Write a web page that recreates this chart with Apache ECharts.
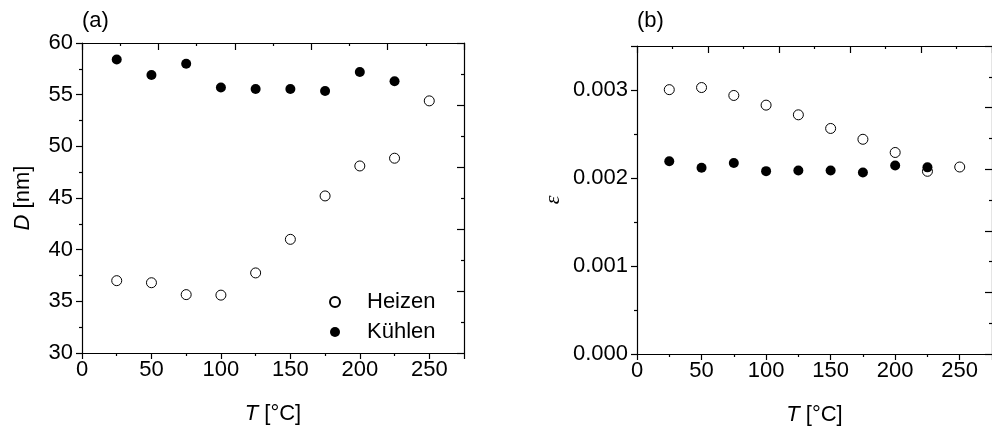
<!DOCTYPE html>
<html>
<head>
<meta charset="utf-8">
<script src="https://cdn.jsdelivr.net/npm/echarts@6/dist/echarts.min.js"></script>
<style>
  html, body { margin: 0; padding: 0; background: #fff; }
  #chart { width: 992px; height: 435px; }
</style>
</head>
<body>
<div id="chart"></div>
<script>
// Temperatures (°C) of the measurement steps
const temps = [25, 50, 75, 100, 125, 150, 175, 200, 225, 250];

// Crystallite size D [nm]
const dHeizen  = [37.0, 36.8, 35.65, 35.6, 37.75, 41.0, 45.2, 48.1, 48.85, 54.4];
const dKuehlen = [58.4, 56.9, 58.0, 55.7, 55.55, 55.55, 55.35, 57.2, 56.3];

// Microstrain ε
const epsHeizen  = [0.003004, 0.003028, 0.002938, 0.002828, 0.002718, 0.002563, 0.00244, 0.00229, 0.002076, 0.002125];
const epsKuehlen = [0.00219, 0.002117, 0.00217, 0.002078, 0.002085, 0.002085, 0.002062, 0.002142, 0.002121];

// Axis tick labels
const tTicks = [0, 50, 100, 150, 200, 250];
const dTicks = [30, 35, 40, 45, 50, 55, 60];
const epsTicks = ['0.000', '0.001', '0.002', '0.003'];

const seriesNames = ['Heizen', 'Kühlen'];

const pairs = (xs, ys) => ys.map((v, i) => [xs[i], v]);

const FONT = '"Liberation Sans", Arial, sans-serif';
const BLACK = '#000';

const lineStyle = { color: BLACK, width: 1.2 };

function bottomAxis(gridIndex) {
  return {
    type: 'value', gridIndex, position: 'bottom',
    min: 0, max: 275, interval: 50,
    name: '{i|T} [°C]', nameLocation: 'middle', nameGap: 50,
    nameTextStyle: { fontFamily: FONT, fontSize: 22, color: BLACK,
      rich: { i: { fontStyle: 'italic', fontFamily: FONT, fontSize: 22, color: BLACK } } },
    axisLine: { show: true, onZero: false, lineStyle },
    axisTick: { show: true, inside: false, length: 6, lineStyle },
    minorTick: { show: true, splitNumber: 2, length: 3, lineStyle },
    splitLine: { show: false },
    axisLabel: {
      margin: 6, fontFamily: FONT, fontSize: 22, color: BLACK,
      showMaxLabel: false,
      formatter: v => (tTicks.indexOf(v) >= 0 ? String(v) : '')
    }
  };
}

// Frame axes on top/right carry their own evenly spaced inward ticks
function frameAxis(gridIndex, position) {
  return {
    type: 'value', gridIndex, position,
    min: 0, max: 10, interval: 2,
    axisLine: { show: true, onZero: false, lineStyle },
    axisTick: { show: true, inside: true, length: 7, lineStyle },
    minorTick: { show: true, splitNumber: 2, length: 3, lineStyle },
    splitLine: { show: false },
    axisLabel: { show: false }
  };
}

const openStyle = { color: '#fff', borderColor: BLACK, borderWidth: 1, opacity: 1 };
const filledStyle = { color: BLACK, borderColor: BLACK, borderWidth: 0, opacity: 1 };

const option = {
  backgroundColor: '#fff',
  animation: false,
  textStyle: { fontFamily: FONT, color: BLACK },
  graphic: [
    { type: 'text', left: 82, top: 10, style: { text: '(a)', font: '22px ' + FONT, fill: BLACK } },
    { type: 'text', left: 637, top: 10, style: { text: '(b)', font: '22px ' + FONT, fill: BLACK } }
  ],
  grid: [
    { left: 82, top: 43, width: 382, height: 310, containLabel: false },
    { left: 637, top: 46, right: -4, height: 308, containLabel: false }
  ],
  legend: {
    orient: 'vertical', left: 324, top: 286,
    data: seriesNames,
    itemWidth: 10, itemHeight: 10, itemGap: 8,
    icon: 'circle',
    textStyle: { fontFamily: FONT, fontSize: 22, color: BLACK, padding: [0, 0, 0, 22] }
  },
  xAxis: [
    bottomAxis(0),
    bottomAxis(1),
    frameAxis(0, 'top'),
    frameAxis(1, 'top')
  ],
  yAxis: [
    {
      type: 'value', gridIndex: 0, position: 'left',
      min: 30, max: 60, interval: 5,
      name: '{i|D} [nm]', nameLocation: 'middle', nameGap: 48, nameRotate: 90,
      nameTextStyle: { fontFamily: FONT, fontSize: 22, color: BLACK,
        rich: { i: { fontStyle: 'italic', fontFamily: FONT, fontSize: 22, color: BLACK } } },
      axisLine: { show: true, onZero: false, lineStyle },
      axisTick: { show: true, inside: false, length: 6, lineStyle },
      minorTick: { show: true, splitNumber: 2, length: 3, lineStyle },
      splitLine: { show: false },
      axisLabel: {
        margin: 9, fontFamily: FONT, fontSize: 22, color: BLACK,
        formatter: v => (dTicks.indexOf(v) >= 0 ? String(v) : '')
      }
    },
    {
      type: 'value', gridIndex: 1, position: 'left',
      min: 0, max: 0.0035, interval: 0.001,
      name: 'ε', nameLocation: 'middle', nameGap: 73, nameRotate: 90,
      nameTextStyle: { fontFamily: '"Liberation Serif", serif', fontStyle: 'italic', fontSize: 22, color: BLACK },
      axisLine: { show: true, onZero: false, lineStyle },
      axisTick: { show: true, inside: false, length: 6, lineStyle },
      minorTick: { show: true, splitNumber: 2, length: 3, lineStyle },
      splitLine: { show: false },
      axisLabel: {
        margin: 9, fontFamily: FONT, fontSize: 22, color: BLACK,
        showMaxLabel: false,
        formatter: v => {
          const s = v.toFixed(3);
          return epsTicks.indexOf(s) >= 0 ? s : '';
        }
      }
    },
    frameAxis(0, 'right'),
    frameAxis(1, 'right')
  ],
  series: [
    {
      name: seriesNames[0], type: 'scatter', xAxisIndex: 0, yAxisIndex: 0,
      data: pairs(temps, dHeizen), symbol: 'circle', symbolSize: 10,
      itemStyle: openStyle, z: 3
    },
    {
      name: seriesNames[1], type: 'scatter', xAxisIndex: 0, yAxisIndex: 0,
      data: pairs(temps, dKuehlen), symbol: 'circle', symbolSize: 10,
      itemStyle: filledStyle, z: 4
    },
    {
      name: seriesNames[0], type: 'scatter', xAxisIndex: 1, yAxisIndex: 1,
      data: pairs(temps, epsHeizen), symbol: 'circle', symbolSize: 10,
      itemStyle: openStyle, z: 3
    },
    {
      name: seriesNames[1], type: 'scatter', xAxisIndex: 1, yAxisIndex: 1,
      data: pairs(temps, epsKuehlen), symbol: 'circle', symbolSize: 10,
      itemStyle: filledStyle, z: 4
    }
  ]
};

const chart = echarts.init(document.getElementById('chart'), null, { renderer: 'canvas' });
chart.setOption(option);
</script>
</body>
</html>
